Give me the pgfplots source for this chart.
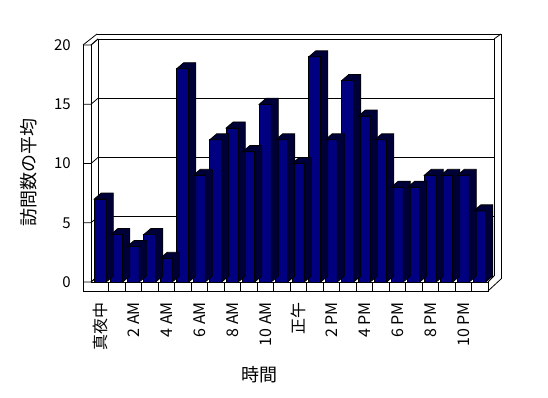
\documentclass[border=0pt]{standalone}
\usepackage{fontspec}
\setmainfont{Noto Sans CJK JP}
\usepackage{pgfplots}
\usepackage{pgfplotstable}
\pgfplotsset{compat=1.18}
\definecolor{barfront}{RGB}{0,0,128}
\definecolor{barside}{RGB}{0,0,56}

\pgfplotstableread{
x v
0 7
1 4
2 3
3 4
4 2
5 18
6 9
7 12
8 13
9 11
10 15
11 12
12 10
13 19
14 12
15 17
16 14
17 12
18 8
19 8
20 9
21 9
22 9
23 6
}\visits

\begin{document}
\begin{tikzpicture}
\useasboundingbox (0,0) rectangle (548bp,398bp);
% chart walls and floor, in image pixel coordinates
\begin{scope}[shift={(0,398bp)}, x=1bp, y=-1bp, line width=0.8bp]
  % left wall front edge
  \draw (83,45) -- (83,291);
  \draw (91,45) -- (91,282);
  \draw (83,45) -- (97,34);
  \draw (91,45) -- (98,39);
  \draw (98,39) -- (98,276);
  \draw (91,282) -- (98,276);
  % back wall
  \draw (97,34) -- (501,34) -- (501,279);
  \draw (494,39) -- (501,34);
  \draw (494,39) -- (494,276);
  % floor
  \draw (91,282) -- (488,282) -- (488,291) -- (83,291);
  \draw (488,282) -- (494,276);
  \draw (488,291) -- (501,279);
  \foreach \k in {1,...,23} \draw ({92+16.5*\k},282) -- ({92+16.5*\k},291);
  % ticks across the left wall
  \foreach \v in {0,5,10,15,20} \draw (83,{282-11.85*\v}) -- (91,{282-11.85*\v}) -- (98,{276-11.85*\v});
\end{scope}
\begin{axis}[
  at={(92bp,116bp)}, anchor=south west,
  scale only axis, width=396bp, height=237bp,
  xmin=-0.5, xmax=23.5, ymin=0, ymax=20,
  clip=false,
  axis line style={draw=none},
  major tick length=0pt,
  ytick={0,5,10,15,20},
  xtick={0,2,4,6,8,10,12,14,16,18,20,22},
  xticklabels={真夜中,2 AM,4 AM,6 AM,8 AM,10 AM,正午,2 PM,4 PM,6 PM,8 PM,10 PM},
  /pgf/number format/assume math mode=true,
  yticklabel style={anchor=east, inner sep=0pt, xshift=-21bp, font=\fontsize{15bp}{15bp}\selectfont},
  xticklabel style={yshift=-20bp, rotate=90, anchor=east, inner sep=0pt, font=\fontsize{16bp}{16bp}\selectfont},
  ymajorgrids,
  grid style={black, line width=0.8bp, xshift=6bp, yshift=6bp},
]
\addplot[scatter, only marks, mark=*, mark size=0pt, mark options={draw=none, fill=none},
  visualization depends on={rawy \as \barh},
  scatter/@pre marker code/.code={%
    \filldraw[fill=barside, draw=black, line width=0.8bp]
      (-6bp,0pt) -- (1bp,6bp) -- (13bp,6bp) -- (13bp,{6bp-11.85bp*\barh})
      -- (6bp,{-11.85bp*\barh}) -- (6bp,0pt) -- cycle;
  },
  scatter/@post marker code/.code={}
] table[x=x, y=v] {\visits};
\addplot[ybar, bar width=12bp, bar shift=0pt, fill=barfront, draw=black, line width=0.8bp]
  table[x=x, y=v] {\visits};
\end{axis}
\node[rotate=90, font=\fontsize{18bp}{18bp}\selectfont] at (29bp,225bp) {訪問数の平均};
\node[font=\fontsize{18bp}{18bp}\selectfont] at (259.5bp,23bp) {時間};
\end{tikzpicture}
\end{document}
